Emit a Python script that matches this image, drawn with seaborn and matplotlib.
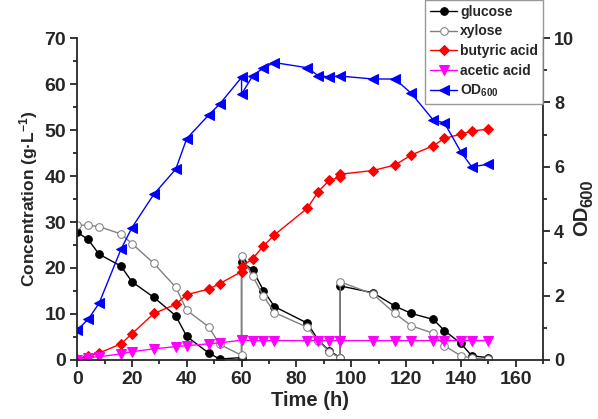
import matplotlib
matplotlib.use("Agg")
import matplotlib.pyplot as plt
from matplotlib.ticker import MultipleLocator
import seaborn as sns

sns.set_style("ticks")
plt.rcParams['font.family'] = ['Liberation Sans', 'DejaVu Sans']
plt.rcParams['font.weight'] = 'bold'
plt.rcParams['mathtext.fontset'] = 'custom'
plt.rcParams['mathtext.rm'] = 'Liberation Sans:bold'
plt.rcParams['mathtext.bf'] = 'Liberation Sans:bold'
plt.rcParams['mathtext.default'] = 'bf'

# sugar / acid sampling times (feeds at 60 h and 96 h give doubled points)
time = [0, 4, 8, 16, 20, 28, 36, 40, 48, 52, 60, 60, 64, 68, 72, 84, 88, 92, 96, 96,
        108, 116, 122, 130, 134, 140, 144, 150]
glucose = [27.8, 26.2, 23.0, 20.4, 17.0, 13.6, 9.6, 5.1, 1.5, 0.2, 0.5, 21.4, 19.6, 15.1, 11.6,
           8.0, 4.3, 2.0, 0.5, 16.1, 14.6, 11.7, 10.1, 8.8, 6.4, 3.6, 0.9, 0.5]
xylose = [29.3, 29.3, 29.0, 27.4, 25.3, 21.0, 15.8, 10.8, 7.2, 3.4, 1.0, 22.5, 18.3, 13.9, 10.3,
          7.1, 4.2, 1.8, 0.4, 17.0, 14.3, 10.1, 7.4, 5.8, 3.1, 0.9, 0.4, 0.1]
butyric = [0.1, 0.8, 1.5, 3.5, 5.7, 10.1, 12.1, 14.2, 15.4, 16.6, 19.2, 20.3, 22.0, 24.8, 27.2,
           33.0, 36.6, 39.1, 39.7, 40.4, 41.2, 42.4, 44.6, 46.6, 48.2, 49.1, 49.8, 50.2]
acetic = [0.0, 0.5, 0.7, 1.3, 1.8, 2.4, 2.9, 3.1, 3.5, 3.7, 4.3, 4.3, 4.2, 4.2, 4.2,
          4.2, 4.2, 4.2, 4.2, 4.2, 4.2, 4.2, 4.2, 4.2, 4.2, 4.2, 4.2, 4.2]

od_time = [0, 4, 8, 16, 20, 28, 36, 40, 48, 52, 60, 60, 64, 68, 72, 84, 88, 92, 96,
           108, 116, 122, 130, 134, 140, 144, 150]
od600 = [0.93, 1.26, 1.76, 3.44, 4.11, 5.15, 5.93, 6.88, 7.61, 7.95, 8.78, 8.26, 8.82, 9.08, 9.24,
         9.08, 8.83, 8.80, 8.82, 8.73, 8.73, 8.28, 7.45, 7.37, 6.47, 6.00, 6.08]

fig = plt.figure(figsize=(5.98, 4.19), dpi=100)
ax = fig.add_axes([0.129, 0.141, 0.779, 0.768])
ax2 = ax.twinx()

common = dict(sort=False, estimator=None, linewidth=1.0)
sns.lineplot(x=time, y=glucose, ax=ax, color='black', marker='o', markersize=5.5,
             markerfacecolor='black', markeredgecolor='black', label='glucose', **common)
sns.lineplot(x=time, y=xylose, ax=ax, color='#808080', marker='o', markersize=5.5,
             markerfacecolor='white', markeredgecolor='#808080', label='xylose', **common)
sns.lineplot(x=time, y=butyric, ax=ax, color='#ff0000', marker='D', markersize=5.5,
             markerfacecolor='#ff0000', markeredgecolor='#ff0000', label='butyric acid', **common)
sns.lineplot(x=time, y=acetic, ax=ax, color='#ff00ff', marker='v', markersize=6.5,
             markerfacecolor='#ff00ff', markeredgecolor='#ff00ff', label='acetic acid', **common)
sns.lineplot(x=od_time, y=od600, ax=ax2, color='#0000ff', marker='<', markersize=6.5,
             markerfacecolor='#0000ff', markeredgecolor='#0000ff', label='OD$_{600}$', **common)

ax.set_xlim(0, 170)
ax.set_ylim(0, 70)
ax2.set_ylim(0, 10)
ax.xaxis.set_major_locator(MultipleLocator(20))
ax.xaxis.set_minor_locator(MultipleLocator(10))
ax.yaxis.set_major_locator(MultipleLocator(10))
ax.yaxis.set_minor_locator(MultipleLocator(5))
ax2.yaxis.set_major_locator(MultipleLocator(2))
ax2.yaxis.set_minor_locator(MultipleLocator(1))

for a in (ax, ax2):
    a.spines['top'].set_visible(False)
    for s in a.spines.values():
        s.set_linewidth(1.3)
    a.tick_params(which='major', direction='out', length=5, width=1.3, labelsize=14, pad=3)
    a.tick_params(which='minor', direction='out', length=3, width=1.3)
    for lab in a.get_xticklabels() + a.get_yticklabels():
        lab.set_fontweight('bold')
ax2.tick_params(axis='y', labelsize=13)
ax.spines['right'].set_visible(False)
ax2.spines['left'].set_visible(False)
ax2.spines['bottom'].set_visible(False)

ax.set_xlabel('Time (h)', fontsize=14.5, fontweight='bold', labelpad=2)
ax.set_ylabel('Concentration (g·L$^{-1}$)', fontsize=12.5, fontweight='bold', labelpad=3)

# right axis label with a near full size subscript, as in the reference
fig.text(582 / 598, 1 - 236 / 419, 'OD', rotation=90, ha='center', va='bottom',
         fontsize=14.5, fontweight='bold')
fig.text(588 / 598, 1 - 207 / 419, '600', rotation=90, ha='center', va='bottom',
         fontsize=12, fontweight='bold')

h1, l1 = ax.get_legend_handles_labels()
h2, l2 = ax2.get_legend_handles_labels()
ax.get_legend().remove()
ax2.get_legend().remove()
leg = fig.legend(h1 + h2, l1 + l2, loc='upper left', bbox_to_anchor=(0.711, 1.0),
                 frameon=True, fancybox=False, edgecolor='#808080', borderaxespad=0,
                 handlelength=1.95, handletextpad=0.2, labelspacing=0.4, borderpad=0.35,
                 prop={'weight': 'bold', 'size': 10})
leg.get_frame().set_linewidth(1.0)

fig.savefig('out.png', dpi=100)
